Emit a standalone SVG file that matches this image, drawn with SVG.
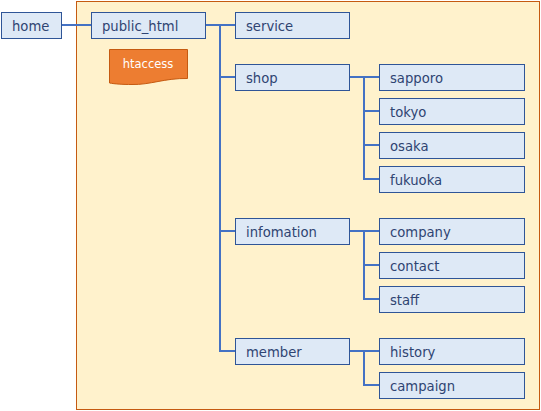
<svg xmlns="http://www.w3.org/2000/svg" width="541" height="411" viewBox="0 0 541 411">
<style>
.n{fill:#dee9f6;stroke:#2f5597;stroke-width:1}
.t{font-family:"DejaVu Sans",Verdana,sans-serif;font-size:13.2px;fill:#2f4472}
.c{fill:none;stroke:#4472c4;stroke-width:2}
</style>
<rect id="container" x="76.500" y="1.500" width="463" height="408" fill="#fff2cc" stroke="#c55a11"/>
<g id="connectors" class="c">
<path d="M61 25H92"/>
<path d="M205 25H236M220 25V351H236M220 77H236M220 231H236"/>
<path d="M349 77H380M364 77V179H380M364 111H380M364 145H380"/>
<path d="M349 231H380M364 231V299H380M364 265H380"/>
<path d="M349 351H380M364 351V385H380"/>
</g>
<g id="home"><rect class="n" x="1.500" y="12.500" width="60" height="26"/><text class="t" x="12" y="31">home</text></g>
<g id="public_html"><rect class="n" x="91.500" y="12.500" width="114" height="26"/><text class="t" x="102" y="31">public_html</text></g>
<g id="htaccess"><path d="M109.500 49.500H187.500V78.500C165 78 150 85 132 84.500C122 84.500 115 84 109.500 83Z" fill="#ed7d31" stroke="#c55a11"/><text x="148" y="68" text-anchor="middle" font-family="DejaVu Sans,Verdana,sans-serif" font-size="11.500" fill="#fff">htaccess</text></g>
<g id="service"><rect class="n" x="235.500" y="12.500" width="114" height="26"/><text class="t" x="246" y="31">service</text></g>
<g id="shop"><rect class="n" x="235.500" y="64.500" width="114" height="26"/><text class="t" x="246" y="83">shop</text></g>
<g id="infomation"><rect class="n" x="235.500" y="218.500" width="114" height="26"/><text class="t" x="246" y="237">infomation</text></g>
<g id="member"><rect class="n" x="235.500" y="338.500" width="114" height="26"/><text class="t" x="246" y="357">member</text></g>
<g id="sapporo"><rect class="n" x="379.500" y="64.500" width="145" height="26"/><text class="t" x="390" y="83">sapporo</text></g>
<g id="tokyo"><rect class="n" x="379.500" y="98.500" width="145" height="26"/><text class="t" x="390" y="117">tokyo</text></g>
<g id="osaka"><rect class="n" x="379.500" y="132.500" width="145" height="26"/><text class="t" x="390" y="151">osaka</text></g>
<g id="fukuoka"><rect class="n" x="379.500" y="166.500" width="145" height="26"/><text class="t" x="390" y="185">fukuoka</text></g>
<g id="company"><rect class="n" x="379.500" y="218.500" width="145" height="26"/><text class="t" x="390" y="237">company</text></g>
<g id="contact"><rect class="n" x="379.500" y="252.500" width="145" height="26"/><text class="t" x="390" y="271">contact</text></g>
<g id="staff"><rect class="n" x="379.500" y="286.500" width="145" height="26"/><text class="t" x="390" y="305">staff</text></g>
<g id="history"><rect class="n" x="379.500" y="338.500" width="145" height="26"/><text class="t" x="390" y="357">history</text></g>
<g id="campaign"><rect class="n" x="379.500" y="372.500" width="145" height="26"/><text class="t" x="390" y="391">campaign</text></g>
</svg>
